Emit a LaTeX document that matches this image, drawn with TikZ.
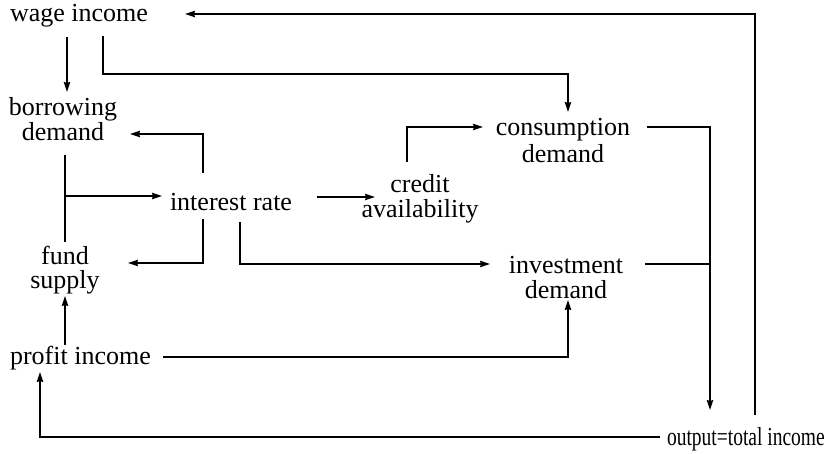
\documentclass[tikz,border=0pt]{standalone}
\usepackage{fontspec}
\setmainfont{Liberation Serif}
\usetikzlibrary{arrows.meta}
\begin{document}
\begin{tikzpicture}[x=1pt,y=-1pt,
  lbl/.style={inner sep=0pt,outer sep=0pt,font=\fontsize{26}{25}\selectfont},
  two/.style={lbl,align=center,anchor=center},
  conn/.style={line width=1.1pt},
  arr/.style={conn,-{Stealth[length=10pt,width=6.5pt,inset=1pt]}}]
\useasboundingbox (0,0) rectangle (830,453);
% nodes
\node[lbl,anchor=base west] (wage) at (10,21) {wage income};
\node[two] (borrow) at (63,119) {borrowing\\demand};
\node[lbl,anchor=base] (interest) at (231,210) {interest rate};
\node[two] (credit) at (420,199) {credit\\availability};
\node[two,font=\fontsize{26}{27}\selectfont] (cons) at (563,141) {consumption\\demand};
\node[two,font=\fontsize{26}{25}\selectfont] (inv) at (566,278) {investment\\demand};
\node[two,font=\fontsize{26}{24}\selectfont] (fund) at (65,270) {fund\\supply};
\node[lbl,anchor=base west] (profit) at (10,364) {profit income};
\node[lbl,anchor=base west] (output) at (667,445) {\scalebox{0.75}[1]{output=total income}};
% coordinates
\coordinate (o1) at (755,415); \coordinate (o2) at (755,14); \coordinate (w1) at (185,14);
\coordinate (w2) at (67,37); \coordinate (b1) at (67,92);
\coordinate (w3) at (103,36); \coordinate (w4) at (103,74); \coordinate (w5) at (568,74); \coordinate (c1) at (568,112);
\coordinate (i1) at (203,173); \coordinate (i2) at (203,134); \coordinate (b2) at (130,134);
\coordinate (b3) at (65,155); \coordinate (b4) at (65,242); \coordinate (b5) at (65,196); \coordinate (i3) at (162,196);
\coordinate (i4) at (317,197); \coordinate (cr1) at (375,197);
\coordinate (i5) at (203,219); \coordinate (i6) at (203,263); \coordinate (f1) at (128,263);
\coordinate (i7) at (240,222); \coordinate (i8) at (240,264); \coordinate (v1) at (490,264);
\coordinate (p1) at (65,345); \coordinate (f2) at (65,296);
\coordinate (p2) at (163,357); \coordinate (p3) at (568,357); \coordinate (v2) at (568,300);
\coordinate (o3) at (660,437); \coordinate (o4) at (40,437); \coordinate (p4) at (40,372);
\coordinate (cr2) at (407,162); \coordinate (cr3) at (407,127); \coordinate (c2) at (483,127);
\coordinate (c3) at (647,127); \coordinate (j1) at (710,127); \coordinate (o5) at (710,410);
\coordinate (v3) at (645,264); \coordinate (j2) at (710,264);
% connectors
\draw[arr] (o1) -- (o2) -- (w1);
\draw[arr] (w2) -- (b1);
\draw[arr] (w3) -- (w4) -- (w5) -- (c1);
\draw[arr] (i1) -- (i2) -- (b2);
\draw[conn] (b3) -- (b4);
\draw[arr] (b5) -- (i3);
\draw[arr] (i4) -- (cr1);
\draw[arr] (i5) -- (i6) -- (f1);
\draw[arr] (i7) -- (i8) -- (v1);
\draw[arr] (p1) -- (f2);
\draw[arr] (p2) -- (p3) -- (v2);
\draw[arr] (o3) -- (o4) -- (p4);
\draw[arr] (cr2) -- (cr3) -- (c2);
\draw[arr] (c3) -- (j1) -- (o5);
\draw[conn] (v3) -- (j2);
\end{tikzpicture}
\end{document}
